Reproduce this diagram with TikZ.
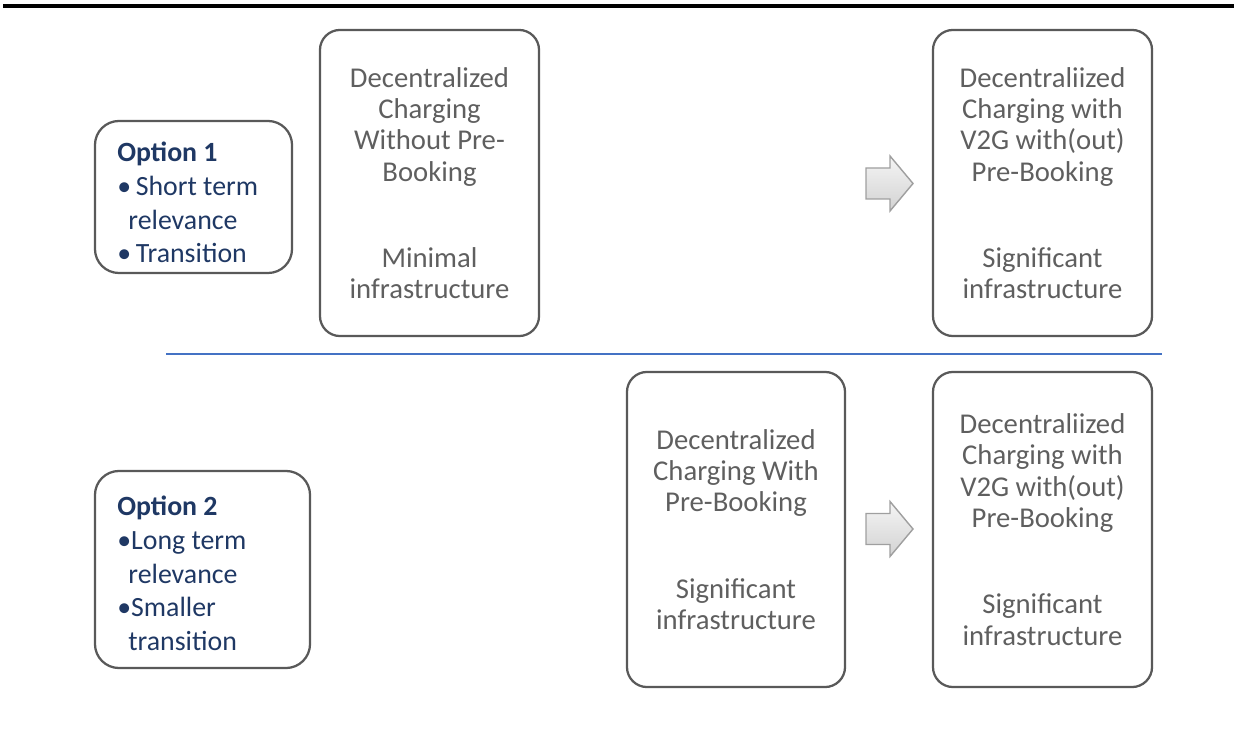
\documentclass[tikz,border=0pt]{standalone}
\usepackage{fontspec}
\setmainfont{Carlito}
\definecolor{boxgray}{HTML}{595959}
\definecolor{txtgray}{HTML}{5F5F5F}
\definecolor{optblue}{HTML}{1F3864}
\definecolor{divblue}{HTML}{4472C4}
\newcommand{\bul}{\textbullet}
\newcommand{\cont}{\hspace*{0.4em}}
\begin{document}
\begin{tikzpicture}[x=0.025cm,y=-0.025cm,
    stage/.style={draw=boxgray,line width=1.6pt,rounded corners=0.5cm,align=center,text=txtgray,
        font=\fontsize{20.4}{22.3}\selectfont,inner sep=0pt,minimum width=5.475cm},
    option/.style={draw=boxgray,line width=1.6pt,rounded corners=0.6cm,inner sep=0pt},
    optext/.style={align=left,text=optblue,font=\fontsize{19.8}{24}\selectfont,inner sep=0pt,anchor=west},
    blockarrow/.style={draw=gray!75,line width=1pt,top color=gray!8,bottom color=gray!35},
    rule/.style={line width=2.4pt},
    divider/.style={draw=divblue,line width=1.6pt},
]
	\useasboundingbox (0,0) rectangle (1234,740);
	\draw [rule] (3,6) -- (1234,6); % top rule
	\draw [divider] (166,354) -- (1162,354); % option divider

	% option 1 row
	\node [option,minimum width=4.925cm,minimum height=3.8cm] (opt1) at (193.5,197) {};
	\node [optext] (opt1txt) at (117,202.5)
		{\textbf{Option 1}\\\bul\,Short term\\\cont relevance\\\bul\,Transition};
	\node [stage,minimum height=7.65cm] (nopre) at (429.5,183)
		{Decentralized\\Charging\\Without Pre-\\Booking\\[39pt]Minimal\\infrastructure};
	\node [stage,minimum height=7.65cm] (vtgtop) at (1042.5,183)
		{Decentraliized\\Charging with\\V2G with(out)\\Pre-Booking\\[39pt]Significant\\infrastructure};

	% option 2 row
	\node [option,minimum width=5.375cm,minimum height=4.925cm] (opt2) at (202.5,569.5) {};
	\node [optext] (opt2txt) at (117,573.5)
		{\textbf{Option 2}\\\bul Long term\\\cont relevance\\\bul Smaller\\\cont transition};
	\node [stage,minimum width=5.45cm,minimum height=7.875cm] (withpre) at (736,529.5)
		{Decentralized\\Charging With\\Pre-Booking\\[39pt]Significant\\infrastructure};
	\node [stage,minimum height=7.875cm] (vtgbot) at (1042.5,529.5)
		{Decentraliized\\Charging with\\V2G with(out)\\Pre-Booking\\[39pt]Significant\\infrastructure};

	% block arrows
	\coordinate (arrtop) at (866,183.5);
	\coordinate (arrbot) at (866,529);
	\draw [blockarrow] (arrtop) ++(0,-15.5) -- ++(24,0) -- ++(0,-12) -- ++(23,27.5)
		-- ++(-23,27.5) -- ++(0,-12) -- ++(-24,0) -- cycle; % upper
	\draw [blockarrow] (arrbot) ++(0,-15.5) -- ++(24,0) -- ++(0,-12) -- ++(23,27.5)
		-- ++(-23,27.5) -- ++(0,-12) -- ++(-24,0) -- cycle; % lower
\end{tikzpicture}
\end{document}
